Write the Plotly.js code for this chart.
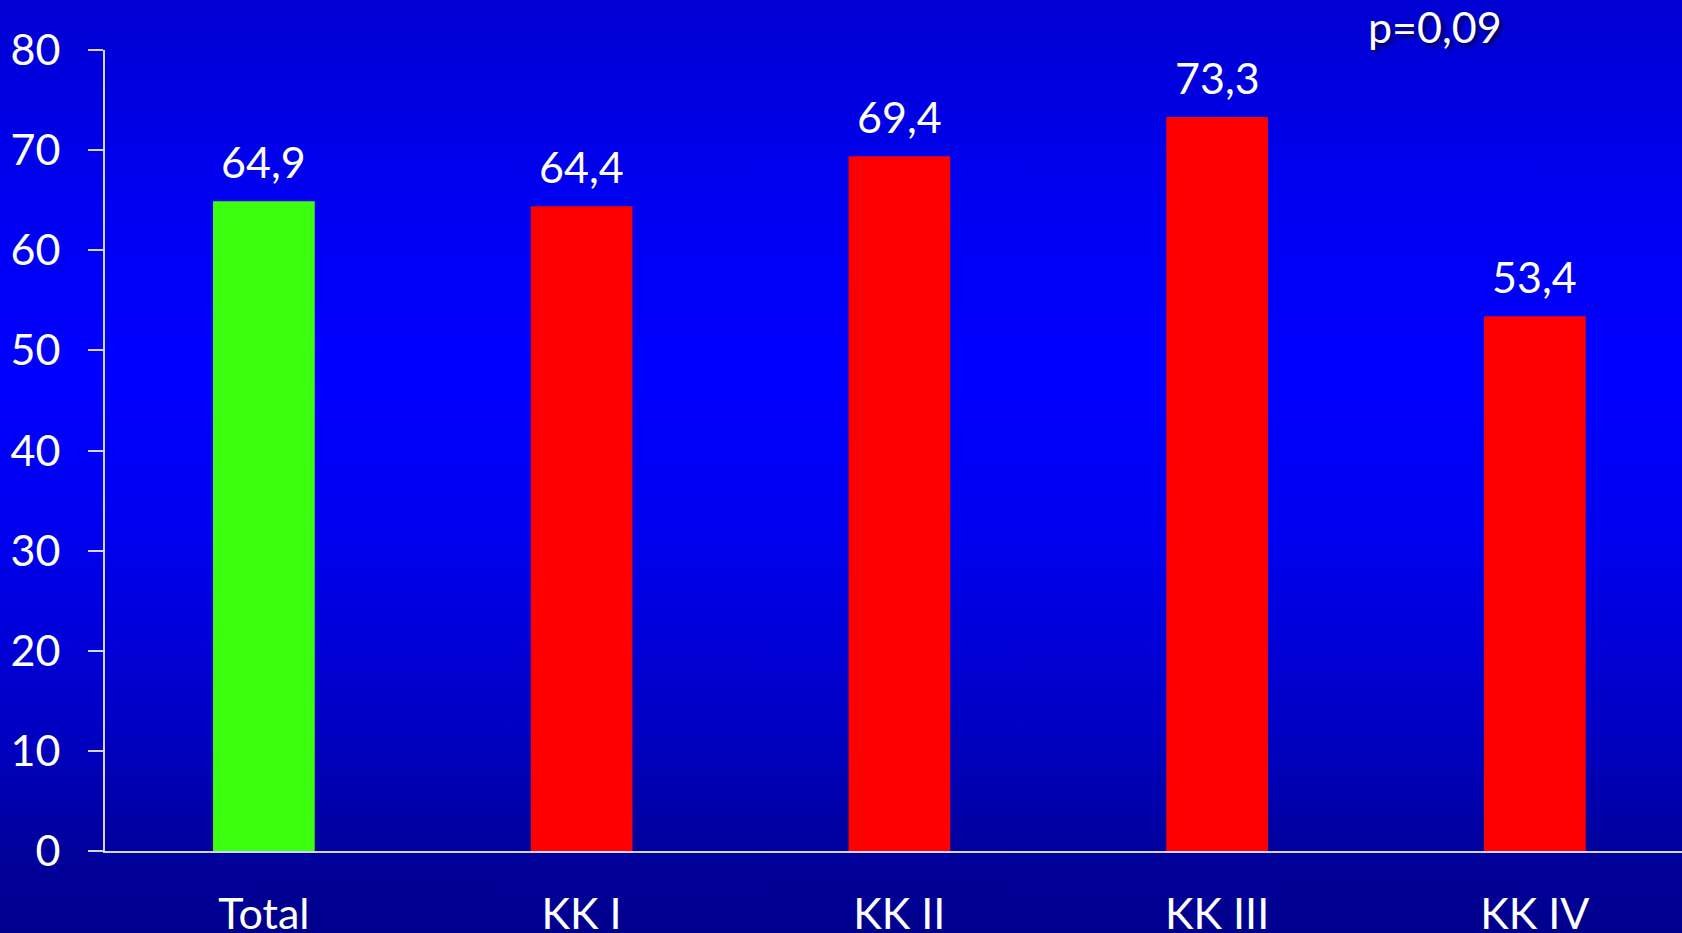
<!DOCTYPE html>
<html>
<head>
<meta charset="utf-8">
<script src="https://cdn.plot.ly/plotly-3.0.1.min.js"></script>
<style>
  html, body { margin: 0; padding: 0; width: 1682px; height: 933px; overflow: hidden; }
  body {
    background: linear-gradient(to bottom,
      #0000d2 0%, #0000f2 22%, #0000ff 40%, #0000ee 58%,
      #0000c4 78%, #00009c 91%, #00008c 100%);
  }
  #chart { width: 1682px; height: 933px; }
</style>
</head>
<body>
<div id="chart"></div>
<script>
// Share of patients (%) by Killip class
const categories = ['Total', 'KK I', 'KK II', 'KK III', 'KK IV'];
const values = [64.9, 64.4, 69.4, 73.3, 53.4];
const pValueText = 'p=0,09';

const GREEN = '#3cff0f';
const RED = '#ff0000';
const AXIS = '#d4d4f2';
const FONT = 'Lato, "Open Sans", "Noto Sans", sans-serif';

const barColors = categories.map((c, i) => (i === 0 ? GREEN : RED));
const fmt = v => v.toFixed(1).replace('.', ',');

const trace = {
  type: 'bar',
  x: categories,
  y: values,
  width: 0.32,
  marker: { color: barColors, line: { width: 0 } },
  hoverinfo: 'skip'
};

const valueLabels = categories.map((c, i) => ({
  x: c, y: values[i], xref: 'x', yref: 'y',
  text: fmt(values[i]),
  showarrow: false,
  yanchor: 'bottom',
  yshift: 12,
  font: { family: FONT, size: 43, color: '#ffffff' }
}));

const layout = {
  width: 1682,
  height: 933,
  margin: { l: 105, r: 0, t: 50, b: 82, pad: 0 },
  paper_bgcolor: 'rgba(0,0,0,0)',
  plot_bgcolor: 'rgba(0,0,0,0)',
  showlegend: false,
  font: { family: FONT, size: 43, color: '#ffffff' },
  xaxis: {
    type: 'category',
    range: [-0.5, 4.463],
    showline: true,
    linecolor: AXIS,
    linewidth: 2,
    ticks: '',
    showgrid: false,
    zeroline: false,
    ticklabelstandoff: 24,
    tickfont: { family: FONT, size: 43, color: '#ffffff' },
    fixedrange: true
  },
  yaxis: {
    range: [0, 80],
    tickvals: [0, 10, 20, 30, 40, 50, 60, 70, 80],
    showline: true,
    linecolor: AXIS,
    linewidth: 2,
    ticks: 'outside',
    ticklen: 15,
    tickwidth: 2,
    tickcolor: AXIS,
    showgrid: false,
    zeroline: false,
    ticklabelstandoff: 19,
    tickfont: { family: FONT, size: 43, color: '#ffffff' },
    fixedrange: true
  },
  annotations: valueLabels.concat([{
    xref: 'paper', yref: 'paper',
    x: 0.8434, y: 1.029,
    xanchor: 'center', yanchor: 'middle',
    text: pValueText,
    showarrow: false,
    font: { family: FONT, size: 43, color: '#ffffff', shadow: '3px 3px 4px rgba(0,0,40,0.75)' }
  }])
};

Plotly.newPlot('chart', [trace], layout, { staticPlot: true, displayModeBar: false });
</script>
</body>
</html>
